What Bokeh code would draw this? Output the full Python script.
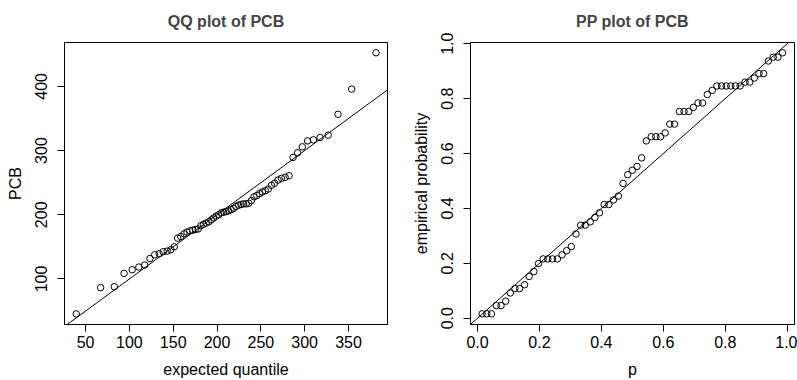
from bokeh.plotting import figure
from bokeh.layouts import row
from bokeh.models import Range1d, FixedTicker, Slope, PrintfTickFormatter, ColumnDataSource
from bokeh.embed import file_html
from bokeh.resources import INLINE

# ---- data ----
QQ_EXPECTED = [39.4, 67.2, 82.8, 94.0, 103.2, 110.8, 117.5, 123.5, 128.9, 134.0,
               138.6, 143.1, 147.3, 151.2, 155.1, 158.7, 162.3, 165.7, 169.0, 172.3,
               175.4, 178.6, 181.6, 184.6, 187.6, 190.5, 193.4, 196.2, 199.1, 201.9,
               204.8, 207.6, 210.4, 213.2, 216.0, 218.9, 221.7, 224.6, 227.4, 230.3,
               233.2, 236.2, 239.2, 242.2, 245.4, 248.5, 251.8, 255.1, 258.5, 262.1,
               265.7, 269.6, 273.5, 277.7, 282.2, 286.8, 291.9, 297.3, 303.3, 310.0,
               317.6, 326.8, 338.0, 353.6, 381.4]
QQ_PCB = [45.6, 86.5, 88.0, 108.7, 114.4, 118.6, 121.7, 131.9, 137.7, 139.2,
          142.4, 143.4, 145.5, 150.1, 163.6, 166.1, 170.3, 173.0, 175.0, 176.0,
          177.0, 178.0, 183.0, 185.0, 187.0, 189.0, 192.0, 195.0, 198.0, 200.0,
          203.0, 204.0, 205.0, 206.0, 208.0, 210.0, 213.0, 215.0, 216.0, 217.0,
          217.0, 218.0, 222.0, 228.0, 230.0, 233.0, 235.5, 237.5, 240.1, 245.9,
          249.0, 254.1, 256.7, 258.3, 260.8, 289.3, 296.5, 305.8, 315.1, 316.7,
          320.4, 324.0, 356.5, 395.8, 452.3]

PP_P = [0.015, 0.030, 0.045, 0.061, 0.076, 0.091, 0.106, 0.121, 0.136, 0.152,
        0.167, 0.182, 0.197, 0.212, 0.227, 0.242, 0.258, 0.273, 0.288, 0.303,
        0.318, 0.333, 0.348, 0.364, 0.379, 0.394, 0.409, 0.424, 0.439, 0.455,
        0.470, 0.485, 0.500, 0.515, 0.530, 0.545, 0.561, 0.576, 0.591, 0.606,
        0.621, 0.636, 0.652, 0.667, 0.682, 0.697, 0.712, 0.727, 0.742, 0.758,
        0.773, 0.788, 0.803, 0.818, 0.833, 0.848, 0.864, 0.879, 0.894, 0.909,
        0.924, 0.939, 0.955, 0.970, 0.985]
PP_EMPIRICAL = [0.016, 0.016, 0.016, 0.046, 0.046, 0.062, 0.092, 0.108, 0.108, 0.122,
                0.152, 0.170, 0.199, 0.216, 0.216, 0.216, 0.216, 0.231, 0.246, 0.261,
                0.307, 0.339, 0.339, 0.351, 0.367, 0.384, 0.414, 0.414, 0.431, 0.445,
                0.491, 0.523, 0.539, 0.553, 0.584, 0.646, 0.661, 0.661, 0.661, 0.675,
                0.707, 0.707, 0.753, 0.753, 0.753, 0.768, 0.784, 0.784, 0.815, 0.830,
                0.846, 0.846, 0.846, 0.846, 0.846, 0.846, 0.860, 0.860, 0.875, 0.891,
                0.891, 0.937, 0.951, 0.951, 0.967]

QQ_XTICKS = [50, 100, 150, 200, 250, 300, 350]
QQ_YTICKS = [100, 200, 300, 400]
PP_TICKS = [0.0, 0.2, 0.4, 0.6, 0.8, 1.0]

FONT = "Liberation Sans"


def style(p, xticks, yticks, xlab, ylab):
    p.title.text_font = FONT
    p.title.text_font_size = "16px"
    p.title.text_font_style = "bold"
    p.title.align = "center"
    p.title.vertical_align = "top"
    p.title.standoff = 21
    p.outline_line_color = "black"
    p.outline_line_width = 1
    p.outline_line_alpha = 1
    p.xgrid.visible = False
    p.ygrid.visible = False
    p.xaxis.ticker = FixedTicker(ticks=xticks)
    p.yaxis.ticker = FixedTicker(ticks=yticks)
    for ax in (p.xaxis[0], p.yaxis[0]):
        ax.major_tick_out = 7
        ax.major_tick_in = 0
        ax.minor_tick_out = 0
        ax.minor_tick_in = 0
        ax.axis_line_color = "black"
        ax.major_tick_line_color = "black"
        ax.major_label_text_font = FONT
        ax.major_label_text_font_size = "16px"
        ax.major_label_text_color = "black"
        ax.axis_label_text_font = FONT
        ax.axis_label_text_font_size = "16px"
        ax.axis_label_text_font_style = "normal"
        ax.axis_label_text_color = "black"
        ax.major_label_standoff = 4
        ax.axis_label_standoff = 10
    p.yaxis.major_label_standoff = 10
    p.yaxis.axis_label_standoff = 9
    p.xaxis.axis_label = xlab
    p.yaxis.axis_label = ylab
    p.yaxis.major_label_orientation = "vertical"


# ---- QQ plot ----
p1 = figure(width=398, height=380, output_backend="svg", toolbar_location=None,
            title="QQ plot of PCB",
            x_range=Range1d(26.0, 394.5), y_range=Range1d(29.1, 468.3),
            min_border_left=64, min_border_right=11, min_border_top=42, min_border_bottom=55)
style(p1, QQ_XTICKS, QQ_YTICKS, "expected quantile", "PCB")
src1 = ColumnDataSource(dict(x=QQ_EXPECTED, y=QQ_PCB))
p1.scatter("x", "y", source=src1, marker="circle", size=6.5, fill_color=None,
           line_color="black", line_width=1)
p1.add_layout(Slope(gradient=1, y_intercept=0, line_color="black", line_width=1))

# ---- PP plot ----
p2 = figure(width=399, height=380, output_backend="svg", toolbar_location=None,
            title="PP plot of PCB",
            x_range=Range1d(-0.0226, 1.0236), y_range=Range1d(-0.0229, 1.0044),
            min_border_left=72, min_border_right=3, min_border_top=42, min_border_bottom=55)
style(p2, PP_TICKS, PP_TICKS, "p", "empirical probability")
p2.xaxis.formatter = PrintfTickFormatter(format="%.1f")
p2.yaxis.formatter = PrintfTickFormatter(format="%.1f")
src2 = ColumnDataSource(dict(x=PP_P, y=PP_EMPIRICAL))
p2.scatter("x", "y", source=src2, marker="circle", size=6.5, fill_color=None,
           line_color="black", line_width=1)
p2.add_layout(Slope(gradient=1, y_intercept=0, line_color="black", line_width=1))

layout = row(p1, p2, spacing=0)
open("out.html", "w").write(file_html(layout, INLINE))
